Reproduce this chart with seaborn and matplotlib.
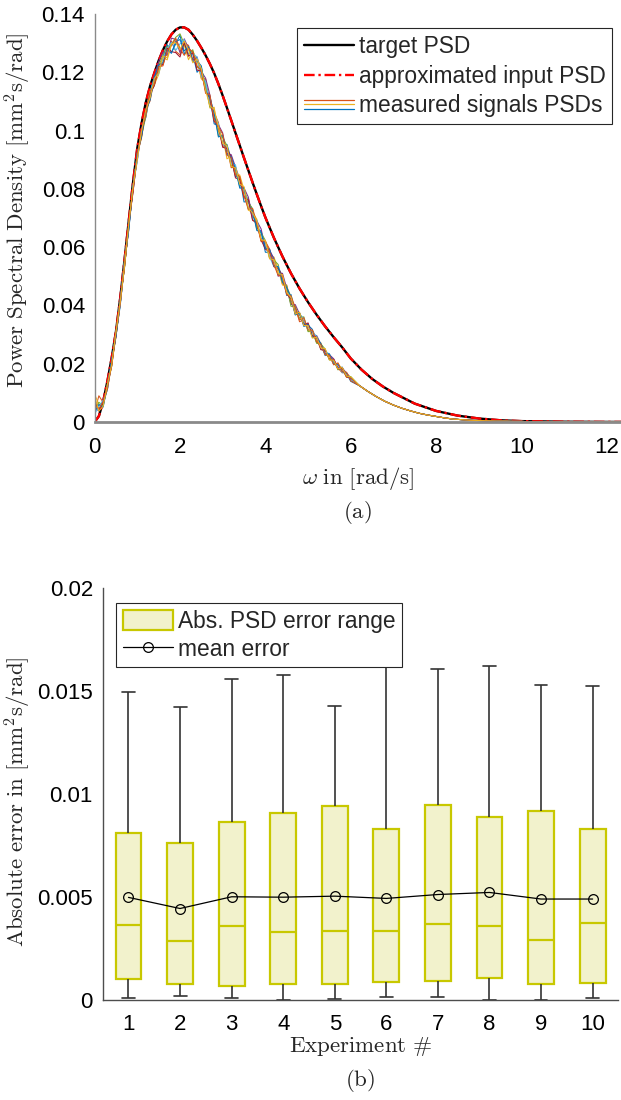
import numpy as np
import pandas as pd
import matplotlib
matplotlib.use("Agg")
import matplotlib.pyplot as plt
import seaborn as sns
from matplotlib.lines import Line2D
from matplotlib.patches import Patch
from matplotlib.legend_handler import HandlerBase

# ---------------- data: panel (a) ----------------
omega_t = [0.0, 0.1, 0.2, 0.3, 0.4, 0.5, 0.6, 0.7, 0.8, 0.9,
           1.0, 1.1, 1.2, 1.3, 1.4, 1.5, 1.6, 1.7, 1.8, 1.9,
           2.0, 2.1, 2.2, 2.3, 2.4, 2.5, 2.6, 2.7, 2.8, 2.9,
           3.0, 3.1, 3.2, 3.3, 3.4, 3.5, 3.6, 3.7, 3.8, 3.9,
           4.0, 4.2, 4.4, 4.6, 4.8, 5.0, 5.2, 5.4, 5.6, 5.8,
           6.0, 6.25, 6.5, 6.75, 7.0, 7.5, 8.0, 8.5, 9.0, 9.5,
           10.0, 11.0, 12.0, 12.4]
target_psd = [0.0, 0.002, 0.007, 0.014, 0.022, 0.031, 0.0425, 0.0555, 0.0690, 0.0822,
              0.0940, 0.1025, 0.1097, 0.1153, 0.1198, 0.1240, 0.1276, 0.1306, 0.1330, 0.1346,
              0.1354, 0.1354, 0.1346, 0.1329, 0.1308, 0.1284, 0.1258, 0.1229, 0.1197, 0.1160,
              0.1120, 0.1078, 0.1035, 0.0992, 0.0949, 0.0906, 0.0864, 0.0822, 0.0781, 0.0741,
              0.0702, 0.0632, 0.0568, 0.0510, 0.0458, 0.0411, 0.0368, 0.0328, 0.0291, 0.0256,
              0.0218, 0.0180, 0.0148, 0.0122, 0.0100, 0.0063, 0.0038, 0.0022, 0.0012, 0.0006,
              0.0003, 0.0001, 0.00003, 0.00002]
approx_psd = [0.0, 0.002, 0.007, 0.014, 0.022, 0.031, 0.0425, 0.0555, 0.0690, 0.0822,
              0.0940, 0.1025, 0.1097, 0.1153, 0.1198, 0.1240, 0.1276, 0.1306, 0.1330, 0.1346,
              0.1354, 0.1354, 0.1346, 0.1329, 0.1308, 0.1284, 0.1258, 0.1229, 0.1197, 0.1160,
              0.1120, 0.1078, 0.1035, 0.0992, 0.0949, 0.0906, 0.0864, 0.0822, 0.0781, 0.0741,
              0.0702, 0.0632, 0.0568, 0.0510, 0.0458, 0.0411, 0.0368, 0.0328, 0.0291, 0.0256,
              0.0218, 0.0180, 0.0148, 0.0122, 0.0100, 0.0063, 0.0038, 0.0022, 0.0012, 0.0006,
              0.0003, 0.0001, 0.00003, 0.00002]

# frequency grid of the measured spectra: 0.1 steps up to 6, then 0.2 steps
omega_m = np.concatenate([np.round(np.arange(0, 6.01, 0.1), 1),
                          np.round(np.arange(6.2, 12.41, 0.2), 1)])

# average level of the measured spectra on omega_m
meas_mean = [0.002, 0.003, 0.006, 0.012, 0.020, 0.030, 0.041, 0.054, 0.067, 0.080,
             0.091, 0.099, 0.106, 0.112, 0.117, 0.121, 0.124, 0.1265, 0.128, 0.129,
             0.129, 0.1285, 0.127, 0.1255, 0.123, 0.1195, 0.115, 0.110, 0.105, 0.1005,
             0.0965, 0.093, 0.0895, 0.086, 0.0825, 0.0785, 0.0745, 0.071, 0.0675, 0.064,
             0.0605, 0.0575, 0.0548, 0.0518, 0.0488, 0.0452, 0.0415, 0.0385, 0.0362, 0.0343,
             0.0325, 0.0303, 0.0282, 0.0260, 0.0240, 0.0222, 0.0205, 0.0191, 0.0178, 0.0162,
             0.0147,
             0.0125, 0.0105, 0.0087, 0.0071, 0.0058, 0.0047, 0.0038, 0.0030, 0.0024, 0.0019,
             0.0014, 0.0010, 0.0008, 0.0006, 0.0005, 0.0004, 0.0003, 0.0003, 0.0002, 0.0002,
             0.0001, 0.0001, 0.0001, 0.0001, 0.0001, 0.0, 0.0, 0.0, 0.0, 0.0,
             0.0, 0.0]

# deviation of each measured spectrum from the average, 0..6 rad/s
# (integers in units of DEV_UNIT)
DEV_UNIT = 1.5e-4
dev_1 = [30, 10, 0, -5, 5, 0, -8, 5, 10, -5,
         0, 8, -10, 5, 12, -6, 10, 20, -8, 5,
         25, -15, 10, 5, -20, 15, -5, 12, -18, 8,
         -10, 15, 5, -12, 10, -20, 8, 12, -6, 10,
         -15, 5, 10, -8, 6, -12, 15, -5, 8, -10,
         5, 10, -6, 4, -8, 6, 3, -5, 7, -4, 2]
dev_2 = [10, 40, 5, 0, -5, 8, 0, -6, 4, 8,
         -5, 3, 8, -12, 6, 15, -10, 5, 18, -12,
         -20, 10, 15, -8, 12, -10, 18, -5, 8, 15,
         -12, 8, -15, 10, 6, -8, 15, -10, 5, -14,
         10, 12, -6, 8, -10, 12, -5, 6, -12, 5,
         -6, 8, 4, -7, 5, -3, 6, -4, -6, 5, 3]
dev_3 = [50, 20, -5, 8, 0, -6, 5, 10, -4, 6,
         8, -10, 4, 10, -8, -12, 8, -15, 10, 12,
         -10, 5, -18, 12, 8, -12, 10, -15, 20, -6,
         10, -18, 12, -5, 15, 8, -12, 6, 14, -8,
         6, -10, 12, 5, -12, 8, 10, -6, 4, 8,
         -8, 5, -4, 8, -6, 4, -5, 6, 3, -6, 4]
dev_4 = [20, 5, 8, -4, 6, -5, 8, 0, -6, 10,
         -8, 12, 5, -6, 10, 18, 20, -5, 25, 15,
         -15, 20, 8, -10, 15, 5, 20, 15, -5, 10,
         18, -6, 15, 10, -8, 12, 18, -4, 10, 15,
         -5, 10, 8, -12, 15, 5, -8, 12, 6, -5,
         8, -6, 10, 5, -4, 6, 8, -3, 5, 4, -3]
dev_5 = [15, 25, -3, 5, -6, 4, 6, -8, 5, 0,
         6, -5, -8, 6, -10, 8, 12, 15, 10, 20,
         28, 8, -5, 15, -8, 10, 5, -12, 10, -15,
         8, 12, -10, 6, -12, 10, 5, 15, -10, 6,
         12, -8, 5, 15, -6, 10, -12, 8, -4, 12,
         -10, 6, -8, 5, 7, -6, 4, -8, 5, -3, 6]
dev_6 = [5, 15, 10, -6, 4, 6, -5, 8, -3, 5,
         -10, 6, -4, 8, 5, -10, 6, 10, 15, -10,
         5, 18, -8, 6, 15, -6, 12, -8, 5, 12,
         -8, 10, -6, 15, -10, 5, 10, -8, 12, -6,
         8, -6, -10, 10, 8, -6, 12, -10, 6, 8,
         -5, 4, 8, -6, 3, 7, -5, 4, -6, 5, -2]
dev_7 = [35, 8, 5, 6, -5, 0, 8, -6, 6, -8,
         5, -8, 10, 3, -10, 6, -8, 12, -6, -15,
         -25, 12, -10, 8, -15, 6, -10, 8, -12, 5,
         -15, 6, 8, -15, 5, -10, 12, -12, 5, -10,
         -8, 6, -10, 6, 10, -8, 5, -10, 8, -6,
         10, -5, 6, -8, 4, -5, 7, -6, 4, -5, 3]
dev_8 = [10, 20, -6, 3, 8, -4, 5, 6, -8, 4,
         10, -6, 6, -10, 8, 10, -5, 8, -10, 10,
         15, -8, 12, -12, 6, 18, -10, 10, 6, -18,
         12, -8, 10, 5, -15, 12, -8, 10, -12, 8,
         -6, 12, -8, 10, -5, 6, 10, -12, 8, -4,
         6, -8, 5, 6, -5, 8, -4, 5, -3, 4, -5]
dev_9 = [25, 10, 6, -5, 0, 6, -4, 5, 8, -6,
         4, 8, -6, 10, -8, 6, -12, 6, 8, 18,
         -5, -18, 8, 10, -6, 8, -15, 15, -8, 6,
         15, -10, 8, -8, 12, -6, -10, 15, 6, -12,
         10, 5, -6, -10, 8, -10, 12, 5, -8, 10,
         -6, 8, -5, 4, -6, 5, -6, 8, -4, 6, -4]
dev_10 = [45, 5, -4, 6, -3, 5, 3, -5, 6, 5,
          -6, 5, 8, -5, 6, -8, 10, -10, 12, 8,
          -8, 15, 5, -15, 10, 12, -8, -10, 15, 5,
          -6, 12, -12, 8, -6, 15, -6, 5, 10, -10,
          12, -10, 6, -6, 12, -5, 8, -10, 10, -8,
          4, -10, 6, -4, 8, -6, 5, -6, 6, -3, 5]
deviations = [dev_1, dev_2, dev_3, dev_4, dev_5, dev_6, dev_7, dev_8, dev_9, dev_10]

# ---------------- data: panel (b) ----------------
experiments = [1, 2, 3, 4, 5, 6, 7, 8, 9, 10]
err_min = [0.00006, 0.00016, 0.00006, 0.0, 0.00005, 0.00013, 0.00013, 0.0, 0.0, 0.00008]
err_q1 = [0.00101, 0.00075, 0.00068, 0.00075, 0.00078, 0.00088, 0.00093, 0.00106, 0.00075, 0.00080]
err_median = [0.00364, 0.00287, 0.00360, 0.00331, 0.00336, 0.00336, 0.00367, 0.00356, 0.00291, 0.00372]
err_q3 = [0.00810, 0.00763, 0.00865, 0.00906, 0.00940, 0.00830, 0.00945, 0.00888, 0.00917, 0.00830]
err_max = [0.01494, 0.01424, 0.01557, 0.01578, 0.01425, 0.01711, 0.01607, 0.01622, 0.01528, 0.01523]
mean_err = [0.00497, 0.00443, 0.00500, 0.00498, 0.00503, 0.00492, 0.00511, 0.00521, 0.00489, 0.00489]

# ---------------- style ----------------
sns.set_theme(style="white")
plt.rcParams["font.family"] = ["Liberation Sans", "DejaVu Sans"]
plt.rcParams["mathtext.fontset"] = "cm"

matlab_colors = ["#0072BD", "#D95319", "#EDB120", "#7E2F8E", "#77AC30",
                 "#4DBEEE", "#A2142F"]
box_face = "#F2F2CC"
box_edge = "#C8C800"
tick_fs = 16
label_fs = 16.5
legend_fs = 16.4
dashdot = (0, (4.5, 1.6, 1.0, 1.6))

W, H = 621, 1100
fig = plt.figure(figsize=(W / 100, H / 100), dpi=100)


def px_axes(left, right, top, bottom):
    return fig.add_axes([left / W, 1 - bottom / H, (right - left) / W, (bottom - top) / H])


ax1 = px_axes(94.6, 621, 14, 422)
ax2 = px_axes(102.7, 618.4, 588, 999.7)


class StackedLinesHandler(HandlerBase):
    """Legend key made of several thin coloured lines stacked vertically."""

    def __init__(self, colors, gap=3.2, **kw):
        super().__init__(**kw)
        self.colors = colors
        self.gap = gap

    def create_artists(self, legend, orig_handle, xdescent, ydescent, width,
                       height, fontsize, trans):
        arts = []
        n = len(self.colors)
        for i, c in enumerate(self.colors):
            y = height / 2 - ydescent + ((n - 1) / 2 - i) * self.gap
            ln = Line2D([-xdescent, width - xdescent], [y, y], color=c, lw=0.9,
                        transform=trans)
            arts.append(ln)
        return arts


# ---------------- panel (a) ----------------
rows = []
for k, dev in enumerate(deviations):
    full_dev = np.array(dev + [0] * (len(omega_m) - len(dev))) * DEV_UNIT
    vals = np.clip(np.array(meas_mean) + full_dev, 0, None)
    rows.append(pd.DataFrame({"omega": omega_m, "psd": vals, "signal": f"s{k + 1}"}))
meas_df = pd.concat(rows, ignore_index=True)
sig_palette = {f"s{k + 1}": matlab_colors[k % 7] for k in range(len(deviations))}

sns.lineplot(x=omega_t, y=target_psd, color="black", lw=1.7, ax=ax1)
sns.lineplot(x=omega_t, y=approx_psd, color="#FF0000", lw=1.7, ax=ax1,
             linestyle=dashdot)
sns.lineplot(data=meas_df, x="omega", y="psd", hue="signal", palette=sig_palette,
             lw=0.75, estimator=None, sort=False, legend=False, ax=ax1)

ax1.set_xlim(0, 12.33)
ax1.set_ylim(0, 0.14)
ax1.set_xticks([0, 2, 4, 6, 8, 10, 12])
ax1.set_xticklabels(["0", "2", "4", "6", "8", "10", "12"])
ax1.set_yticks([0, 0.02, 0.04, 0.06, 0.08, 0.1, 0.12, 0.14])
ax1.set_yticklabels(["0", "0.02", "0.04", "0.06", "0.08", "0.1", "0.12", "0.14"])
for s in ["top", "right"]:
    ax1.spines[s].set_visible(False)
ax1.spines["left"].set_color("#8a8a8a")
ax1.spines["left"].set_linewidth(1.0)
ax1.spines["bottom"].set_color("#8a8a8a")
ax1.spines["bottom"].set_linewidth(2.0)
ax1.tick_params(axis="both", direction="in", length=4, width=0.8, color="#555555",
                labelsize=tick_fs, labelcolor="black")
ax1.tick_params(axis="x", pad=11)
ax1.tick_params(axis="y", pad=7)

ax1.set_xlabel(r"$\omega\ \mathrm{in\ [rad/s]}$", fontsize=label_fs)
ax1.xaxis.set_label_coords(0.5, -0.106)
ax1.set_ylabel(r"$\mathrm{Power\ Spectral\ Density\ [mm^2s/rad]}$", fontsize=label_fs)
ax1.yaxis.set_label_coords(-0.1165, 0.52)
fig.text(357 / W, 1 - 513 / H, r"$\mathrm{(a)}$", ha="center", va="center",
         fontsize=label_fs)

h_target = Line2D([], [], color="black", lw=1.7)
h_approx = Line2D([], [], color="#FF0000", lw=1.7, linestyle=dashdot)
h_meas = Line2D([], [], color="#D95319")
leg1 = ax1.legend([h_target, h_approx, h_meas],
                  ["target PSD", "approximated input PSD", "measured signals PSDs"],
                  handler_map={h_meas: StackedLinesHandler(["#D95319", "#EDB120", "#0072BD"])},
                  loc="upper right", bbox_to_anchor=(0.9835, 0.966), borderaxespad=0,
                  fontsize=legend_fs, handlelength=2.2, handletextpad=0.2,
                  labelspacing=0.3, borderpad=0.3, fancybox=False, framealpha=1)
leg1.get_frame().set_edgecolor("#262626")
leg1.get_frame().set_linewidth(0.8)

# ---------------- panel (b) ----------------
box_df = pd.DataFrame({
    "experiment": np.repeat(experiments, 5),
    "error": np.ravel(np.column_stack([err_min, err_q1, err_median, err_q3, err_max])),
})
sns.boxplot(data=box_df, x="experiment", y="error", native_scale=True, width=0.5,
            whis=(0, 100), ax=ax2,
            boxprops=dict(facecolor=box_face, edgecolor=box_edge, linewidth=1.6),
            medianprops=dict(color=box_edge, linewidth=1.6),
            whiskerprops=dict(color="#333333", linewidth=1.2),
            capprops=dict(color="#333333", linewidth=1.2),
            showfliers=False)
sns.lineplot(x=experiments, y=mean_err, color="black", lw=0.9, marker="o",
             markersize=7, markerfacecolor="none", markeredgecolor="black",
             markeredgewidth=0.9, ax=ax2)

ax2.set_xlim(0.5, 10.5)
ax2.set_ylim(0, 0.02)
ax2.set_xticks(experiments)
ax2.set_xticklabels([str(e) for e in experiments])
ax2.set_yticks([0, 0.005, 0.01, 0.015, 0.02])
ax2.set_yticklabels(["0", "0.005", "0.01", "0.015", "0.02"])
for s in ["top", "right"]:
    ax2.spines[s].set_visible(False)
for s in ["left", "bottom"]:
    ax2.spines[s].set_color("#4d4d4d")
    ax2.spines[s].set_linewidth(1.0)
ax2.tick_params(axis="both", direction="in", length=4, width=0.8, color="#4d4d4d",
                labelsize=tick_fs, labelcolor="black")
ax2.tick_params(axis="x", pad=10)
ax2.tick_params(axis="y", pad=7)

ax2.set_xlabel(r"$\mathrm{Experiment\ \#}$", fontsize=label_fs)
ax2.xaxis.set_label_coords(0.5, -0.085)
ax2.set_ylabel(r"$\mathrm{Absolute\ error\ in\ [mm^2s/rad]}$", fontsize=label_fs)
ax2.yaxis.set_label_coords(-0.136, 0.48)
fig.text(360 / W, 1 - 1080 / H, r"$\mathrm{(b)}$", ha="center", va="center",
         fontsize=label_fs)

h_box = Patch(facecolor=box_face, edgecolor=box_edge, linewidth=1.6)
h_mean = Line2D([], [], color="black", lw=0.9, marker="o", markersize=7,
                markerfacecolor="none", markeredgecolor="black", markeredgewidth=0.9)
leg2 = ax2.legend([h_box, h_mean], ["Abs. PSD error range", "mean error"],
                  loc="upper left", bbox_to_anchor=(0.0258, 0.964), borderaxespad=0,
                  fontsize=legend_fs, handlelength=2.2, handleheight=1.0,
                  handletextpad=0.2, labelspacing=0.22, borderpad=0.3,
                  fancybox=False, framealpha=1)
leg2.get_frame().set_edgecolor("#262626")
leg2.get_frame().set_linewidth(0.8)

fig.savefig("out.png", dpi=100)
